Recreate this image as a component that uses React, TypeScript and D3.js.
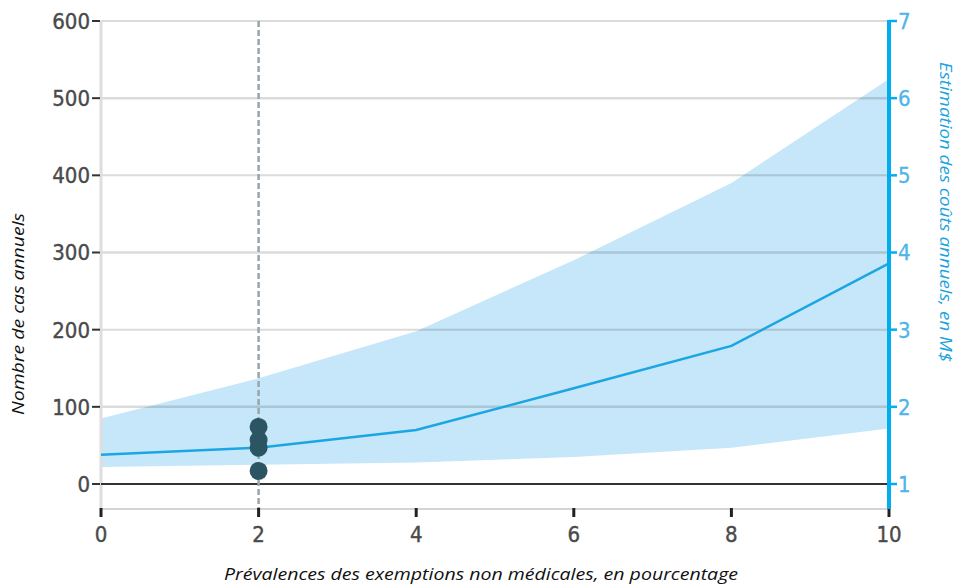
import React from "react";
import * as d3 from "d3";

const prevalence = [0, 2, 4, 6, 8, 10];
const casesMid = [38, 47, 70, 124, 179, 286];
const casesUpper = [85, 137, 198, 290, 390, 525];
const casesLower = [22, 25, 28, 35, 47, 72];
const observedX = 2;
const observedCases = [74, 57, 47, 17];
const leftTicks = [0, 100, 200, 300, 400, 500, 600];
const rightTicks = [1, 2, 3, 4, 5, 6, 7];
const xTicks = [0, 2, 4, 6, 8, 10];

const W = 957;
const H = 585;
const X0 = 101, X1 = 889, Y0 = 484, Y1 = 21, AXIS_Y = 509;

export default function App() {
  const x = d3.scaleLinear().domain([0, 10]).range([X0, X1]);
  const y = d3.scaleLinear().domain([0, 600]).range([Y0, Y1]);
  const yR = d3.scaleLinear().domain([1, 7]).range([Y0, Y1]);

  const idx = prevalence.map((_, i) => i);
  const area = d3
    .area<number>()
    .x((i) => x(prevalence[i]))
    .y0((i) => y(casesLower[i]))
    .y1((i) => y(casesUpper[i]));
  const line = d3
    .line<number>()
    .x((i) => x(prevalence[i]))
    .y((i) => y(casesMid[i]));

  const tickFont = "'DejaVu Sans Condensed', 'DejaVu Sans', sans-serif";
  const titleFont = "'Open Sans', 'Liberation Sans', sans-serif";

  return (
    <svg width={W} height={H} style={{ position: "absolute", left: 0, top: 0 }}>
      <rect width={W} height={H} fill="#fff" />
      {/* band */}
      <path d={area(idx) || ""} fill="#c5e7f9" />
      {/* grid */}
      {leftTicks.filter((t) => t > 0).map((t) => (
        <line key={t} x1={X0} x2={X1} y1={y(t)} y2={y(t)} stroke="#000" strokeOpacity={0.14} strokeWidth={t % 200 === 100 ? 2.5 : 2} />
      ))}
      {/* left axis line */}
      <line x1={X0} x2={X0} y1={Y1} y2={AXIS_Y} stroke="#dedede" strokeWidth={3} />
      {/* bottom axis line */}
      <line x1={X0} x2={X1} y1={AXIS_Y} y2={AXIS_Y} stroke="#d4d4d4" strokeWidth={2} />
      {/* zero line */}
      <line x1={X0} x2={X1} y1={y(0)} y2={y(0)} stroke="#333" strokeWidth={2} />
      {/* dashed vertical */}
      <line x1={x(observedX)} x2={x(observedX)} y1={Y1} y2={AXIS_Y} stroke="#99a5aa" strokeWidth={2.5} strokeDasharray="6,3" />
      {/* mid line */}
      <path d={line(idx) || ""} fill="none" stroke="#1ba6e3" strokeWidth={2.5} />
      {/* points */}
      {observedCases.map((v, i) => (
        <circle key={i} cx={x(observedX)} cy={y(v)} r={9} fill="#2b5563" />
      ))}
      {/* left ticks */}
      {leftTicks.map((t) => (
        <g key={t}>
          <line x1={X0 - 9} x2={X0 - 1} y1={y(t)} y2={y(t)} stroke="#333" strokeWidth={2} />
          <text x={X0 - 11} y={y(t)} dy="0.36em" textAnchor="end" fontFamily={tickFont} fontSize={22} fill="#4a4a4a" stroke="#4a4a4a" strokeWidth={0.4}>
            {t}
          </text>
        </g>
      ))}
      {/* x ticks */}
      {xTicks.map((t) => (
        <g key={t}>
          <line x1={x(t)} x2={x(t)} y1={AXIS_Y - 1} y2={AXIS_Y + 8} stroke="#222" strokeWidth={3} />
          <text x={x(t)} y={542} textAnchor="middle" fontFamily={tickFont} fontSize={22} fill="#4a4a4a" stroke="#4a4a4a" strokeWidth={0.4}>
            {t}
          </text>
        </g>
      ))}
      {/* right axis */}
      <line x1={X1} x2={X1} y1={Y1 - 1} y2={AXIS_Y} stroke="#00aeef" strokeWidth={4} />
      {rightTicks.map((t) => (
        <g key={t}>
          <line x1={X1} x2={X1 + 8} y1={yR(t)} y2={yR(t)} stroke="#00aeef" strokeWidth={2.5} />
          <text x={X1 + 9} y={yR(t)} dy="0.36em" textAnchor="start" fontFamily={tickFont} fontSize={22} fill="#4fb4ea" stroke="#4fb4ea" strokeWidth={0.3}>
            {t}
          </text>
        </g>
      ))}
      {/* titles */}
      <text
        transform={`translate(24,314) rotate(-90)`}
        textAnchor="middle"
        fontFamily={titleFont}
        fontStyle="italic"
        fontSize={16}
        fill="#111"
        textLength={202}
        lengthAdjust="spacingAndGlyphs"
      >
        Nombre de cas annuels
      </text>
      <text
        transform={`translate(940,212) rotate(90)`}
        textAnchor="middle"
        fontFamily={titleFont}
        fontStyle="italic"
        fontSize={17}
        fill="#1aa3e0"
        textLength={300}
        lengthAdjust="spacingAndGlyphs"
      >
        Estimation des coûts annuels, en M$
      </text>
      <text
        x={481}
        y={580}
        textAnchor="middle"
        fontFamily={titleFont}
        fontStyle="italic"
        fontSize={16}
        fill="#111"
        textLength={514}
        lengthAdjust="spacingAndGlyphs"
      >
        Prévalences des exemptions non médicales, en pourcentage
      </text>
    </svg>
  );
}
